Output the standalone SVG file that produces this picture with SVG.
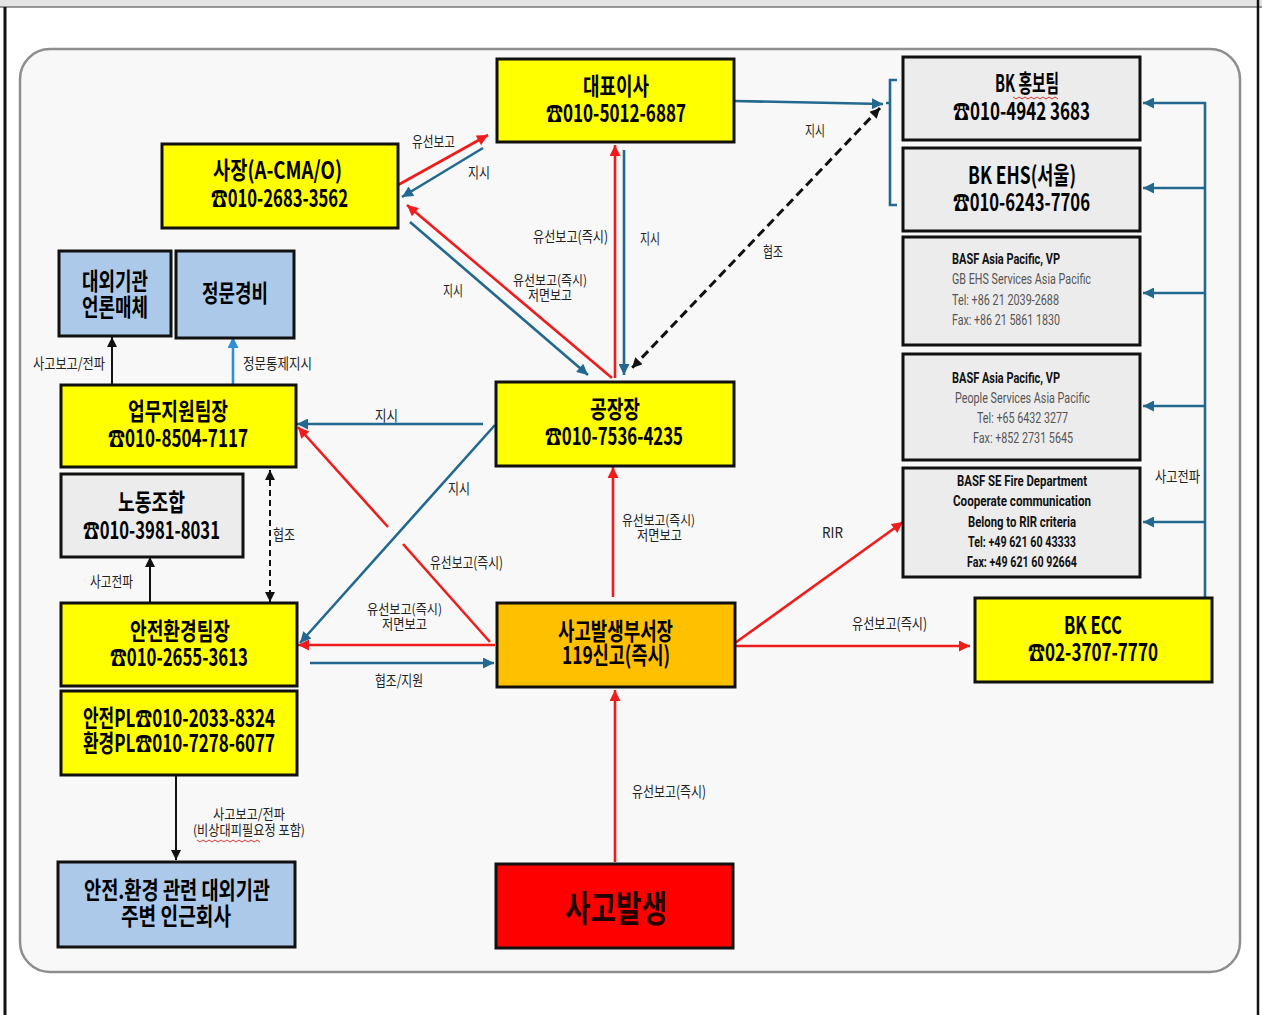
<svg xmlns="http://www.w3.org/2000/svg" width="1262" height="1015" viewBox="0 0 1262 1015">
<defs>
<style>
.bx{stroke:#111;stroke-width:3}
.y{fill:#ffff00}.g{fill:#ececec}.lb{fill:#acc9ea}.o{fill:#ffc000}.r{fill:#ff0000}
.t{font-family:"Noto Sans CJK KR","Noto Sans",sans-serif;font-weight:700;font-size:24px;fill:#000}
.s{font-family:"Noto Sans CJK KR","Noto Sans",sans-serif;font-size:15px;fill:#222}
.s2{font-family:"Noto Sans CJK KR","Noto Sans",sans-serif;font-size:13.5px;fill:#222}
.e{font-family:"Roboto","Liberation Sans",sans-serif;font-size:14px;fill:#555}
.eb{font-family:"Roboto","Liberation Sans",sans-serif;font-size:14px;font-weight:700;fill:#111}
.rd{stroke:#f01c1c;stroke-width:2.6;fill:none}
.bl{stroke:#22688f;stroke-width:2.6;fill:none}
.bk{stroke:#111;stroke-width:2;fill:none}
.dsh{stroke:#111;stroke-width:3;stroke-dasharray:9,5;fill:none}
.dsh2{stroke:#111;stroke-width:2;stroke-dasharray:6,4;fill:none}
.lbl{stroke:#2f8fd8;stroke-width:2.6;fill:none}
.wv{stroke:#e03030;stroke-width:1;fill:none}
</style>
<marker id="mr" viewBox="0 0 10 10" refX="10" refY="5" markerWidth="13" markerHeight="11" markerUnits="userSpaceOnUse" orient="auto-start-reverse"><path d="M0,0L10,5L0,10z" fill="#f01c1c"/></marker>
<marker id="mb" viewBox="0 0 10 10" refX="10" refY="5" markerWidth="13" markerHeight="11" markerUnits="userSpaceOnUse" orient="auto-start-reverse"><path d="M0,0L10,5L0,10z" fill="#22688f"/></marker>
<marker id="mk" viewBox="0 0 10 10" refX="10" refY="5" markerWidth="13" markerHeight="10" markerUnits="userSpaceOnUse" orient="auto-start-reverse"><path d="M0,0L10,5L0,10z" fill="#111"/></marker>
<marker id="ml" viewBox="0 0 10 10" refX="10" refY="5" markerWidth="13" markerHeight="11" markerUnits="userSpaceOnUse" orient="auto-start-reverse"><path d="M0,0L10,5L0,10z" fill="#2f8fd8"/></marker>
</defs>

<rect x="0" y="0" width="1262" height="1015" fill="#ffffff"/>
<rect x="0" y="0" width="1262" height="7" fill="#e4e4e4"/>
<line x1="0" y1="7" x2="1262" y2="7" stroke="#777" stroke-width="1.5"/>
<line x1="5" y1="7" x2="5" y2="1015" stroke="#111" stroke-width="3"/>
<line x1="1258" y1="0" x2="1258" y2="1015" stroke="#111" stroke-width="2.5"/>
<rect x="20" y="49" width="1220" height="923" rx="30" ry="30" fill="#f8f8f8" stroke="#8e8e8e" stroke-width="2.5"/>

<g id="connectors">
<!-- red -->
<line class="rd" x1="398" y1="185" x2="488" y2="135" marker-end="url(#mr)"/>
<line class="rd" x1="612" y1="378" x2="407" y2="205" marker-end="url(#mr)"/>
<line class="rd" x1="615" y1="378" x2="615" y2="145" marker-end="url(#mr)"/>
<line class="rd" x1="490" y1="642" x2="403" y2="544"/>
<line class="rd" x1="388" y1="527" x2="298" y2="427" marker-end="url(#mr)"/>
<line class="rd" x1="495" y1="645" x2="298" y2="645" marker-end="url(#mr)"/>
<line class="rd" x1="613" y1="597" x2="613" y2="467" marker-end="url(#mr)"/>
<line class="rd" x1="615" y1="862" x2="615" y2="690" marker-end="url(#mr)"/>
<line class="rd" x1="735" y1="646" x2="970" y2="646" marker-end="url(#mr)"/>
<line class="rd" x1="735" y1="643" x2="903" y2="522" marker-end="url(#mr)"/>
<!-- blue -->
<line class="bl" x1="483" y1="148" x2="402" y2="197" marker-end="url(#mb)"/>
<line class="bl" x1="410" y1="222" x2="588" y2="375" marker-end="url(#mb)"/>
<line class="bl" x1="624" y1="150" x2="624" y2="375" marker-end="url(#mb)"/>
<line class="bl" x1="734" y1="101" x2="883" y2="104" marker-end="url(#mb)"/>
<path class="bl" d="M897,80H890V205H897M890,103H886"/>
<line class="bl" x1="483" y1="424" x2="297" y2="424" marker-end="url(#mb)"/>
<line class="bl" x1="495" y1="425" x2="300" y2="643" marker-end="url(#mb)"/>
<line class="bl" x1="310" y1="663" x2="494" y2="663" marker-end="url(#mb)"/>
<path class="bl" d="M1205,598V102"/>
<line class="bl" x1="1206" y1="103" x2="1143" y2="103" marker-end="url(#mb)"/>
<line class="bl" x1="1205" y1="188" x2="1143" y2="188" marker-end="url(#mb)"/>
<line class="bl" x1="1205" y1="293" x2="1143" y2="293" marker-end="url(#mb)"/>
<line class="bl" x1="1205" y1="406" x2="1143" y2="406" marker-end="url(#mb)"/>
<line class="bl" x1="1205" y1="522" x2="1143" y2="522" marker-end="url(#mb)"/>
<!-- black -->
<line class="dsh" x1="880" y1="108" x2="632" y2="368" marker-start="url(#mk)" marker-end="url(#mk)"/>
<line class="bk" x1="112" y1="384" x2="112" y2="337" marker-end="url(#mk)"/>
<line class="bk" x1="150" y1="603" x2="150" y2="557" marker-end="url(#mk)"/>
<line class="dsh2" x1="270" y1="470" x2="270" y2="602" marker-start="url(#mk)" marker-end="url(#mk)"/>
<line class="bk" x1="176" y1="776" x2="176" y2="860" marker-end="url(#mk)"/>
<line class="lbl" x1="233" y1="384" x2="233" y2="337" marker-end="url(#ml)"/>
<!-- labels -->
<text class="s" x="412" y="147" textLength="43" lengthAdjust="spacingAndGlyphs">유선보고</text>
<text class="s" x="468" y="178" textLength="22" lengthAdjust="spacingAndGlyphs">지시</text>
<text class="s" x="533" y="242" textLength="75" lengthAdjust="spacingAndGlyphs">유선보고(즉시)</text>
<text class="s" x="640" y="244" textLength="20" lengthAdjust="spacingAndGlyphs">지시</text>
<text class="s" x="805" y="136" textLength="20" lengthAdjust="spacingAndGlyphs">지시</text>
<text class="s" x="763" y="257" textLength="20" lengthAdjust="spacingAndGlyphs">협조</text>
<text class="s" x="443" y="296" textLength="20" lengthAdjust="spacingAndGlyphs">지시</text>
<text class="s2" x="513" y="285" textLength="74" lengthAdjust="spacingAndGlyphs">유선보고(즉시)</text>
<text class="s2" x="528" y="300" textLength="44" lengthAdjust="spacingAndGlyphs">저면보고</text>
<text class="s" x="33" y="369" textLength="72" lengthAdjust="spacingAndGlyphs">사고보고/전파</text>
<text class="s" x="243" y="369" textLength="69" lengthAdjust="spacingAndGlyphs">정문통제지시</text>
<text class="s" x="375" y="421" textLength="23" lengthAdjust="spacingAndGlyphs">지시</text>
<text class="s" x="448" y="494" textLength="22" lengthAdjust="spacingAndGlyphs">지시</text>
<text class="s" x="273" y="540" textLength="22" lengthAdjust="spacingAndGlyphs">협조</text>
<text class="s" x="430" y="568" textLength="73" lengthAdjust="spacingAndGlyphs">유선보고(즉시)</text>
<text class="s2" x="367" y="614" textLength="75" lengthAdjust="spacingAndGlyphs">유선보고(즉시)</text>
<text class="s2" x="382" y="629" textLength="45" lengthAdjust="spacingAndGlyphs">저면보고</text>
<text class="s" x="375" y="686" textLength="48" lengthAdjust="spacingAndGlyphs">협조/지원</text>
<text class="s2" x="622" y="525" textLength="73" lengthAdjust="spacingAndGlyphs">유선보고(즉시)</text>
<text class="s2" x="637" y="540" textLength="45" lengthAdjust="spacingAndGlyphs">저면보고</text>
<text class="s" x="90" y="587" textLength="43" lengthAdjust="spacingAndGlyphs">사고전파</text>
<text class="s2" x="213" y="819" textLength="72" lengthAdjust="spacingAndGlyphs">사고보고/전파</text>
<text class="s2" x="193" y="835" textLength="112" lengthAdjust="spacingAndGlyphs">(비상대피필요정 포함)</text>
<path class="wv" d="M197,840l3,2l3,-2l3,2l3,-2l3,2l3,-2l3,2l3,-2l3,2l3,-2l3,2l3,-2l3,2l3,-2l3,2l3,-2l3,2l3,-2l3,2l3,-2l3,2"/>
<text class="s" x="632" y="797" textLength="74" lengthAdjust="spacingAndGlyphs">유선보고(즉시)</text>
<text class="s" x="822" y="538" font-family="Roboto,'Liberation Sans',sans-serif" textLength="21" lengthAdjust="spacingAndGlyphs">RIR</text>
<text class="s" x="852" y="629" textLength="75" lengthAdjust="spacingAndGlyphs">유선보고(즉시)</text>
<text class="s" x="1155" y="482" textLength="45" lengthAdjust="spacingAndGlyphs">사고전파</text>
</g>

<g id="ceo"><rect class="bx y" x="497" y="59" width="237" height="83"/>
<text class="t" x="583" y="95" textLength="66" lengthAdjust="spacingAndGlyphs">대표이사</text>
<text class="t" x="546" y="122" textLength="140" lengthAdjust="spacingAndGlyphs">☎010-5012-6887</text></g>

<g id="president"><rect class="bx y" x="162" y="144" width="236" height="84"/>
<text class="t" x="213" y="179" textLength="129" lengthAdjust="spacingAndGlyphs">사장(A-CMA/O)</text>
<text class="t" x="211" y="207" textLength="137" lengthAdjust="spacingAndGlyphs">☎010-2683-3562</text></g>

<g id="bk-pr"><rect class="bx g" x="903" y="57" width="237" height="83"/>
<text class="t" x="995" y="92" textLength="64" lengthAdjust="spacingAndGlyphs">BK 홍보팀</text>
<path class="wv" d="M1013,97l3,2l3,-2l3,2l3,-2l3,2l3,-2l3,2l3,-2l3,2l3,-2l3,2l3,-2l3,2l3,-2l3,2"/>
<text class="t" x="953" y="120" textLength="137" lengthAdjust="spacingAndGlyphs">☎010-4942 3683</text></g>

<g id="bk-ehs"><rect class="bx g" x="903" y="148" width="237" height="83"/>
<text class="t" x="968" y="184" textLength="108" lengthAdjust="spacingAndGlyphs">BK EHS(서울)</text>
<text class="t" x="953" y="211" textLength="137" lengthAdjust="spacingAndGlyphs">☎010-6243-7706</text></g>

<g id="basf-ehs"><rect class="bx g" x="903" y="237" width="237" height="108"/>
<text class="eb" x="952" y="264" textLength="108" lengthAdjust="spacingAndGlyphs">BASF Asia Pacific, VP</text>
<text class="e" x="952" y="284" textLength="139" lengthAdjust="spacingAndGlyphs">GB EHS Services Asia Pacific</text>
<text class="e" x="952" y="305" textLength="107" lengthAdjust="spacingAndGlyphs">Tel: +86 21 2039-2688</text>
<text class="e" x="952" y="325" textLength="108" lengthAdjust="spacingAndGlyphs">Fax: +86 21 5861 1830</text></g>

<g id="basf-people"><rect class="bx g" x="903" y="354" width="237" height="106"/>
<text class="eb" x="952" y="383" textLength="108" lengthAdjust="spacingAndGlyphs">BASF Asia Pacific, VP</text>
<text class="e" x="955" y="403" textLength="135" lengthAdjust="spacingAndGlyphs">People Services Asia Pacific</text>
<text class="e" x="977" y="423" textLength="91" lengthAdjust="spacingAndGlyphs">Tel: +65 6432 3277</text>
<text class="e" x="973" y="443" textLength="100" lengthAdjust="spacingAndGlyphs">Fax: +852 2731 5645</text></g>

<g id="basf-fire"><rect class="bx g" x="903" y="468" width="237" height="109"/>
<text class="eb" x="957" y="486" textLength="130" lengthAdjust="spacingAndGlyphs">BASF SE Fire Department</text>
<text class="eb" x="953" y="506" textLength="138" lengthAdjust="spacingAndGlyphs">Cooperate communication</text>
<text class="eb" x="968" y="527" textLength="108" lengthAdjust="spacingAndGlyphs">Belong to RIR criteria</text>
<text class="eb" x="968" y="547" textLength="108" lengthAdjust="spacingAndGlyphs">Tel: +49 621 60 43333</text>
<text class="eb" x="967" y="567" textLength="110" lengthAdjust="spacingAndGlyphs">Fax: +49 621 60 92664</text></g>

<g id="bk-ecc"><rect class="bx y" x="975" y="598" width="237" height="84"/>
<text class="t" x="1064" y="634" textLength="58" lengthAdjust="spacingAndGlyphs">BK ECC</text>
<text class="t" x="1028" y="661" textLength="130" lengthAdjust="spacingAndGlyphs">☎02-3707-7770</text></g>

<g id="external-media"><rect class="bx lb" x="59" y="251" width="112" height="85"/>
<text class="t" x="82" y="290" textLength="66" lengthAdjust="spacingAndGlyphs">대외기관</text>
<text class="t" x="82" y="316" textLength="66" lengthAdjust="spacingAndGlyphs">언론매체</text></g>

<g id="gate-security"><rect class="bx lb" x="176" y="251" width="118" height="87"/>
<text class="t" x="202" y="302" textLength="66" lengthAdjust="spacingAndGlyphs">정문경비</text></g>

<g id="support-lead"><rect class="bx y" x="61" y="385" width="235" height="82"/>
<text class="t" x="128" y="420" textLength="100" lengthAdjust="spacingAndGlyphs">업무지원팀장</text>
<text class="t" x="108" y="447" textLength="140" lengthAdjust="spacingAndGlyphs">☎010-8504-7117</text></g>

<g id="union"><rect class="bx g" x="61" y="474" width="182" height="83"/>
<text class="t" x="118" y="511" textLength="67" lengthAdjust="spacingAndGlyphs">노동조합</text>
<text class="t" x="83" y="539" textLength="137" lengthAdjust="spacingAndGlyphs">☎010-3981-8031</text></g>

<g id="ehs-lead"><rect class="bx y" x="61" y="603" width="236" height="83"/>
<text class="t" x="130" y="640" textLength="100" lengthAdjust="spacingAndGlyphs">안전환경팀장</text>
<text class="t" x="110" y="666" textLength="138" lengthAdjust="spacingAndGlyphs">☎010-2655-3613</text></g>

<g id="pl"><rect class="bx y" x="61" y="691" width="236" height="84"/>
<text class="t" x="83" y="727" textLength="192" lengthAdjust="spacingAndGlyphs">안전PL☎010-2033-8324</text>
<text class="t" x="83" y="752" textLength="192" lengthAdjust="spacingAndGlyphs">환경PL☎010-7278-6077</text></g>

<g id="external-agencies"><rect class="bx lb" x="58" y="862" width="237" height="85"/>
<text class="t" x="84" y="899" textLength="186" lengthAdjust="spacingAndGlyphs">안전.환경 관련 대외기관</text>
<text class="t" x="121" y="925" textLength="110" lengthAdjust="spacingAndGlyphs">주변 인근회사</text></g>

<g id="plant-manager"><rect class="bx y" x="496" y="382" width="238" height="84"/>
<text class="t" x="590" y="418" textLength="50" lengthAdjust="spacingAndGlyphs">공장장</text>
<text class="t" x="545" y="445" textLength="138" lengthAdjust="spacingAndGlyphs">☎010-7536-4235</text></g>

<g id="dept-head"><rect class="bx o" x="497" y="603" width="238" height="84"/>
<text class="t" x="558" y="640" textLength="115" lengthAdjust="spacingAndGlyphs">사고발생부서장</text>
<text class="t" x="562" y="664" textLength="108" lengthAdjust="spacingAndGlyphs">119신고(즉시)</text></g>

<g id="accident"><rect class="bx r" x="496" y="864" width="237" height="84"/>
<text class="t" x="565" y="922" style="font-size:36px;fill:#220000" textLength="102" lengthAdjust="spacingAndGlyphs">사고발생</text></g>
</svg>
